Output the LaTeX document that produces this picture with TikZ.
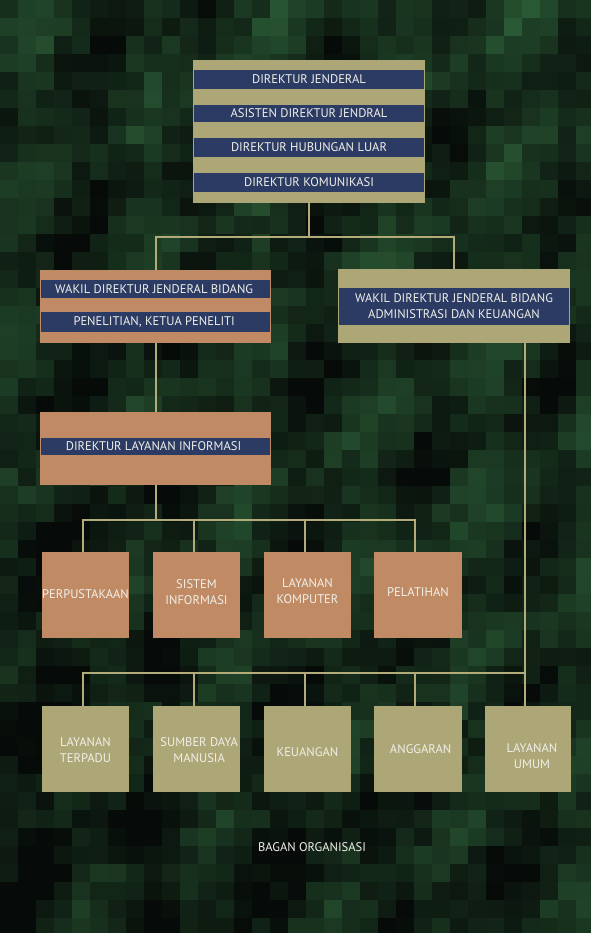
\documentclass[tikz,border=0pt]{standalone}
\usepackage{fontspec}
\setmainfont{PT Sans}
\usetikzlibrary{fit}
\definecolor{khaki}{HTML}{ADA676}
\definecolor{tanbox}{HTML}{C08B64}
\definecolor{navy}{HTML}{2B3B63}
\definecolor{txt}{HTML}{F0EFE8}
\definecolor{linec}{HTML}{B3AC7A}
\definecolor{bgbase}{HTML}{15261A}
\begin{document}
\begin{tikzpicture}[x=0.75pt,y=-0.75pt,
  kbox/.style={fill=khaki,draw=none,inner sep=0pt},
  tbox/.style={fill=tanbox,draw=none,inner sep=0pt},
  band/.style={fill=navy,draw=none,inner sep=0pt},
  lbl/.style={text=txt,font=\fontsize{9.4}{11}\selectfont,align=center,inner sep=0pt},
  conn/.style={draw=linec,line width=1.5pt}]
\useasboundingbox (0,0) rectangle (591,933);
\fill[bgbase] (0,0) rectangle (591,933);
\pgfmathsetseed{11}
\foreach \i in {0,...,32}{
  \foreach \j in {0,...,51}{
    \pgfmathsetmacro{\v}{0.36+0.3*sin(\i*41+\j*23)*cos(\j*19-\i*13)+0.35*(rnd-0.5)-0.18*(\j/52)+0.1*(\i/33)}
    \pgfmathsetmacro{\w}{max(0,min(1,\v))}
    \pgfmathtruncatemacro{\r}{6+40*\w}
    \pgfmathtruncatemacro{\g}{10+88*\w}
    \pgfmathtruncatemacro{\b}{8+50*\w}
    \fill[fill={rgb,255:red,\r;green,\g;blue,\b}] (\i*18,\j*18) rectangle ++(18.5,18.5);
  }
}
% top box
\node[kbox,fit={(193,60) (425,203)}] (top) {};
\node[band,fit={(194,70) (424,89)}] (t1) {};
\node[lbl] (t1t) at (t1.center) {DIREKTUR JENDERAL};
\node[band,fit={(194,105) (424,122)}] (t2) {};
\node[lbl] (t2t) at (t2.center) {ASISTEN DIREKTUR JENDRAL};
\node[band,fit={(194,138) (424,157)}] (t3) {};
\node[lbl] (t3t) at (t3.center) {DIREKTUR HUBUNGAN LUAR};
\node[band,fit={(194,173) (424,192)}] (t4) {};
\node[lbl] (t4t) at (t4.center) {DIREKTUR KOMUNIKASI};
% left wakil
\node[tbox,fit={(40,270) (271,343)}] (wl) {};
\node[band,fit={(41,280) (270,298)}] (wl1) {};
\node[lbl] (wl1t) at ([xshift=-1pt]wl1.center) {WAKIL DIREKTUR JENDERAL BIDANG};
\node[band,fit={(41,312) (270,332)}] (wl2) {};
\node[lbl] (wl2t) at ([xshift=-1pt]wl2.center) {PENELITIAN, KETUA PENELITI};
% right wakil
\node[kbox,fit={(338,269) (570,343)}] (wr) {};
\node[band,fit={(339,288) (569,325)}] (wr1) {};
\node[lbl] (wr1t) at (wr1.center) {WAKIL DIREKTUR JENDERAL BIDANG\\[1pt]ADMINISTRASI DAN KEUANGAN};
% direktur layanan informasi
\node[tbox,fit={(40,412) (271,485)}] (dli) {};
\node[band,fit={(41,438) (270,455)}] (dli1) {};
\node[lbl] (dli1t) at ([xshift=-1.5pt]dli1.center) {DIREKTUR LAYANAN INFORMASI};
% row 1
\node[tbox,fit={(42,552) (129,638)}] (a1) {};
\node[tbox,fit={(153,552) (240,638)}] (a2) {};
\node[tbox,fit={(264,552) (351,638)}] (a3) {};
\node[tbox,fit={(374,552) (462,638)}] (a4) {};
\node[lbl] (a1t) at ([yshift=1pt]a1.center) {PERPUSTAKAAN};
\node[lbl] (a2t) at ([yshift=2pt]a2.center) {SISTEM\\[1pt]INFORMASI};
\node[lbl] (a3t) at ([yshift=3pt]a3.center) {LAYANAN\\[1pt]KOMPUTER};
\node[lbl] (a4t) at ([yshift=2pt]a4.center) {PELATIHAN};
% row 2
\node[kbox,fit={(42,706) (129,792)}] (b1) {};
\node[kbox,fit={(153,706) (240,792)}] (b2) {};
\node[kbox,fit={(264,706) (351,792)}] (b3) {};
\node[kbox,fit={(374,706) (462,792)}] (b4) {};
\node[kbox,fit={(485,706) (571,792)}] (b5) {};
\node[lbl] (b1t) at ([yshift=-1pt]b1.center) {LAYANAN\\[1pt]TERPADU};
\node[lbl] (b2t) at ([xshift=2pt,yshift=-1pt]b2.center) {SUMBER DAYA\\[1pt]MANUSIA};
\node[lbl] (b3t) at ([yshift=-2pt]b3.center) {KEUANGAN};
\node[lbl] (b4t) at ([xshift=2pt,yshift=0pt]b4.center) {ANGGARAN};
\node[lbl] (b5t) at ([xshift=3pt,yshift=-5pt]b5.center) {LAYANAN\\[1pt]UMUM};
% caption
\node[lbl] (cap) at (312,847) {BAGAN ORGANISASI};
% connectors
\draw[conn] (top.south) -- ++(0,34) coordinate (j1);
\draw[conn] (wl.north) |- (j1) -| (wr.north);
\draw[conn] (wl.south) -- (dli.north);
\draw[conn] (dli.south) -- ++(0,35) coordinate (j2);
\draw[conn] ([xshift=-2pt]a1.north) |- (j2) -| ([xshift=-2pt]a4.north);
\draw[conn] ([xshift=-2pt]a2.north) -- ([xshift=-2pt]a2.north |- j2);
\draw[conn] ([xshift=-2pt]a3.north) -- ([xshift=-2pt]a3.north |- j2);
\draw[conn] ([xshift=-2pt]b5.north |- wr.south) -- ([xshift=-2pt]b5.north);
\coordinate (j4) at (525,673);
\draw[conn] ([xshift=-2pt]b1.north) |- (j4);
\draw[conn] ([xshift=-2pt]b2.north) -- ([xshift=-2pt]b2.north |- j4);
\draw[conn] ([xshift=-2pt]b3.north) -- ([xshift=-2pt]b3.north |- j4);
\draw[conn] ([xshift=-2pt]b4.north) -- ([xshift=-2pt]b4.north |- j4);
\end{tikzpicture}
\end{document}
